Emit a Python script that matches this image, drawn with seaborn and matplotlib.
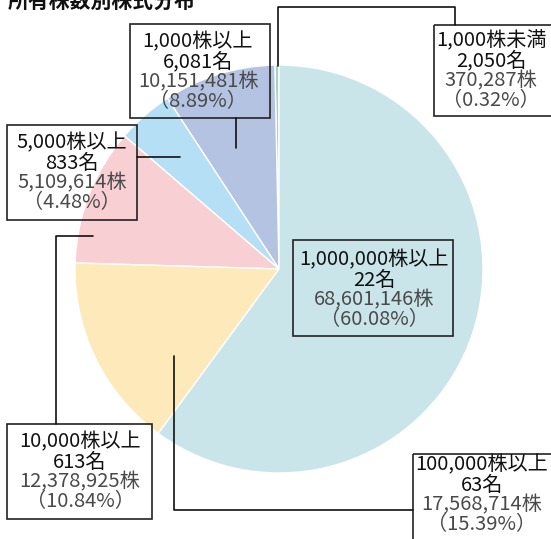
import matplotlib
matplotlib.use("Agg")
import matplotlib.pyplot as plt
from matplotlib.patches import Rectangle
import seaborn as sns

# data ---------------------------------------------------------------------------
title = "所有株数別株式分布"
categories = ["1,000株未満", "1,000株以上", "5,000株以上", "10,000株以上", "100,000株以上", "1,000,000株以上"]
holders = ["2,050名", "6,081名", "833名", "613名", "63名", "22名"]
shares = [370287, 10151481, 5109614, 12378925, 17568714, 68601146]
percents = [0.32, 8.89, 4.48, 10.84, 15.39, 60.08]
colors = ["#9fd8bb", "#b5c3e3", "#b5dff5", "#f8d0d3", "#fde9b9", "#cae5ea"]

# layout (pixels, y down) --------------------------------------------------------
W, H = 551, 539
center = (279, 269)
radius = 204
# box: x0, y0, x1, y1 ; text centre x ; first line y
boxes = [
    (434, 25, 553, 116, 491, 41),
    (130, 24, 270, 118, 198, 42),
    (7, 125, 137, 220, 72, 143),
    (7, 424, 152, 519, 80, 442),
    (413, 454, 553, 545, 482, 465),
    (293, 240, 453, 336, 374, 260),
]
leaders = [
    [(278, 66), (278, 7), (455, 7), (455, 25)],
    [(236, 118), (236, 148)],
    [(137, 157), (180, 157)],
    [(56, 424), (56, 236), (93, 236)],
    [(174, 356), (174, 510), (413, 510)],
    [],
]

sns.set_theme(style="white")
plt.rcParams["font.family"] = ["Noto Sans CJK JP", "DejaVu Sans"]

fig = plt.figure(figsize=(W / 100, H / 100), dpi=100)
ax = fig.add_axes([0, 0, 1, 1])

# y axis is flipped below, so startangle -90 / clockwise = top / counterclockwise on screen
ax.pie(shares, colors=colors, startangle=-90, counterclock=False, center=center, radius=radius,
       wedgeprops=dict(edgecolor="white", linewidth=1.0))

ax.set_xlim(0, W)
ax.set_ylim(H, 0)
ax.set_aspect("auto")
ax.axis("off")

for i in range(len(categories)):
    x0, y0, x1, y1, tx, ty = boxes[i]
    ax.add_patch(Rectangle((x0, y0), x1 - x0, y1 - y0, fill=False, edgecolor="#222222", linewidth=1.2, zorder=3))
    lines = [categories[i], holders[i], f"{shares[i]:,}株", f"（{percents[i]:.2f}%）"]
    cols = ["#111111", "#111111", "#4a4a4a", "#4a4a4a"]
    for j, (t, c) in enumerate(zip(lines, cols)):
        ax.text(tx, ty + j * 20, t, ha="center", va="center", fontsize=14.5, color=c, zorder=4)
    if leaders[i]:
        xs = [p[0] for p in leaders[i]]
        ys = [p[1] for p in leaders[i]]
        ax.plot(xs, ys, color="#111111", linewidth=1.2, zorder=3)

ax.text(8, 8, title, ha="left", va="baseline", fontsize=15, fontweight="bold", color="#111111")

fig.savefig("out.png", dpi=100)
